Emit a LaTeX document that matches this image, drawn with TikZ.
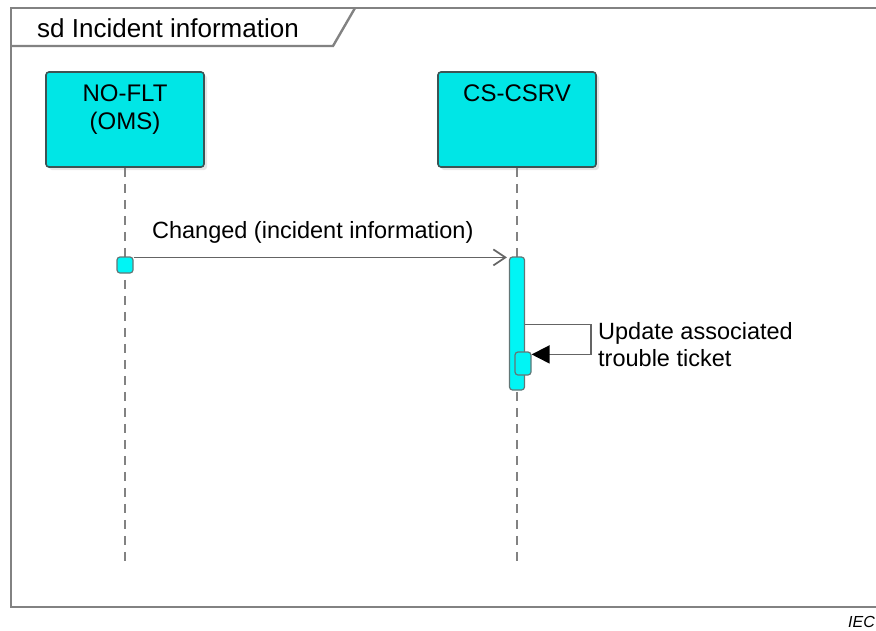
\documentclass[tikz,border=0pt]{standalone}
\usepackage{fontspec}
\setmainfont{Liberation Sans}
\usetikzlibrary{arrows.meta,shadows}
\definecolor{lifecyan}{RGB}{0,230,230}
\definecolor{actcyan}{RGB}{0,245,245}
\definecolor{lifeedge}{RGB}{60,84,84}
\definecolor{framegray}{RGB}{130,130,130}
\definecolor{msggray}{RGB}{100,100,100}
\begin{document}
\begin{tikzpicture}[x=1pt,y=-1pt,
  frame/.style={draw=framegray, line width=2.4pt},
  titletext/.style={font=\fontsize{26}{30}\selectfont, inner sep=0pt},
  lifehead/.style={draw=lifeedge, line width=1.6pt, fill=lifecyan, rounded corners=3pt,
    minimum width=158pt, minimum height=95pt,
    drop shadow={shadow xshift=3pt, shadow yshift=-3pt, opacity=0.2}},
  headtext/.style={font=\fontsize{24}{28}\selectfont, align=center, inner sep=0pt},
  lifeline/.style={draw=framegray, line width=2pt, dash pattern=on 9pt off 7pt},
  activation/.style={draw=lifeedge!80, line width=1.2pt, fill=actcyan, rounded corners=3pt, inner sep=0pt},
  msg/.style={draw=msggray, line width=1.7pt, -{Straight Barb[length=12pt,width=16pt]}},
  selfmsg/.style={draw=msggray, line width=1.7pt, -{Triangle[length=18pt,width=18pt,color=black]}},
  msgtext/.style={font=\fontsize{23.5}{27}\selectfont, inner sep=0pt}]
\useasboundingbox (0,0) rectangle (876,630);

\draw[frame] (886,8) -- (11,8) -- (11,607) -- (886,607);
\draw[frame] (11,46) -- (333,46) -- (355,8);
\node[titletext, anchor=base west] (title) at (37,37) {sd Incident information};

\coordinate (nofltend) at (125,563);
\coordinate (csrvend) at (517,563);
\node[lifehead] (noflt) at (125,119.5) {};
\node[lifehead] (csrv) at (517,119.5) {};
\node[headtext, anchor=north] (nofltlbl) at ([yshift=-13pt]noflt.north) {NO-FLT\\(OMS)};
\node[headtext, anchor=north] (csrvlbl) at ([yshift=-13pt]csrv.north) {CS-CSRV};
\draw[lifeline] (noflt.south) -- (nofltend);
\draw[lifeline] (csrv.south) -- (csrvend);

\node[activation, minimum width=16pt, minimum height=16pt] (act1) at (125,265) {};
\node[activation, minimum width=15pt, minimum height=133pt] (act2) at (517,323.5) {};
\node[activation, minimum width=16pt, minimum height=23pt] (act3) at (523,363.5) {};

\draw[msg] ([yshift=-1pt]act1.north east) -- ([xshift=-2pt,yshift=-1pt]act2.north west)
  node[msgtext, pos=0.48, above=13pt] (msglbl) {Changed (incident information)};
\draw[selfmsg] ([yshift=-68pt]act2.north east) -- ++(66,0) -- ++(0,30) -- ([yshift=-3pt]act3.north east);
\node[msgtext, anchor=north west, align=left] (selflbl) at (598,322) {Update associated\\trouble ticket};

\node[font=\fontsize{16}{19}\selectfont\itshape, anchor=base east, inner sep=0pt] (iec) at (875,627) {IEC};
\end{tikzpicture}
\end{document}
